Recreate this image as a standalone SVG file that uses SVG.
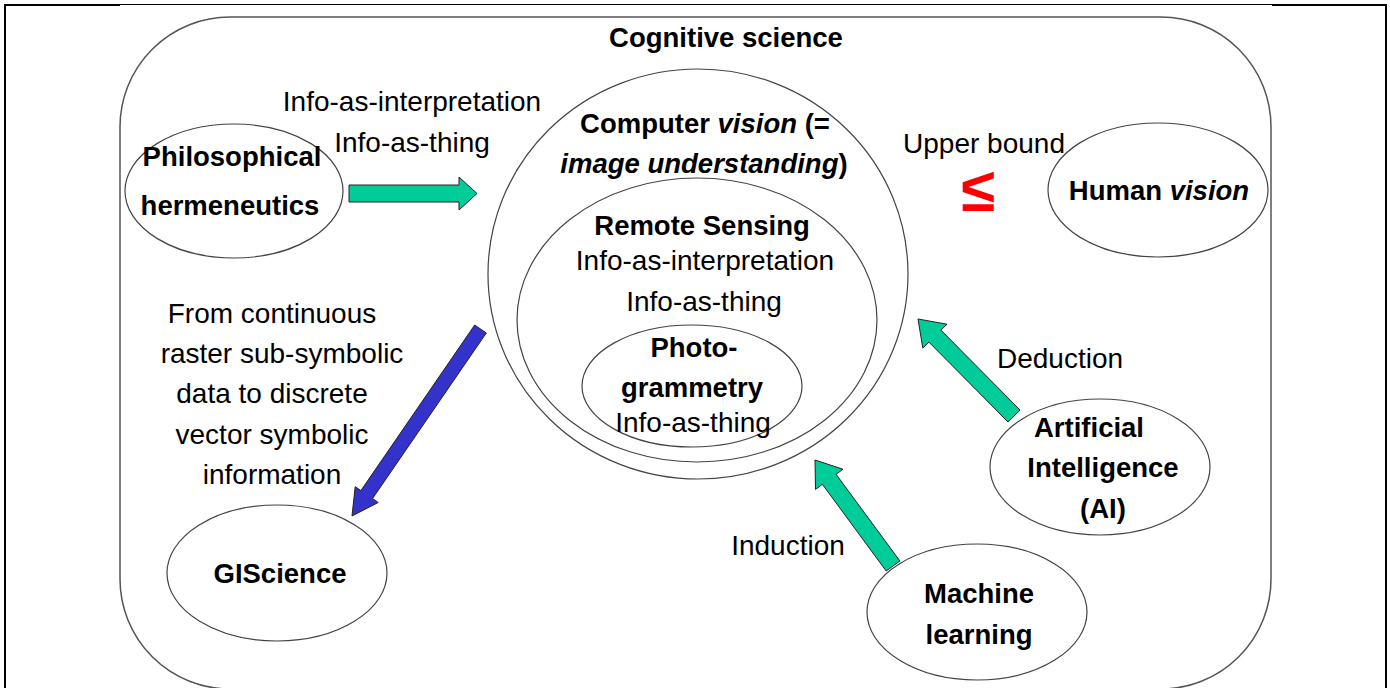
<svg xmlns="http://www.w3.org/2000/svg" width="1390" height="688" viewBox="0 0 1390 688">
<style>
.n{fill:#fff;stroke:#444;stroke-width:1.2}
.t{font-family:"Liberation Sans",Arial,sans-serif;font-size:28px;fill:#000;text-anchor:middle}
.b{font-family:"Liberation Sans",Arial,sans-serif;font-size:27.5px;font-weight:bold;fill:#000;text-anchor:middle}
.g{fill:#00CC99;stroke:#222;stroke-width:1}
.bl{fill:#3333CC;stroke:#222;stroke-width:1}
</style>
<rect width="1390" height="688" fill="#fff"/>
<g id="frame" fill="none" stroke="#000">
<line x1="5" y1="4" x2="5" y2="688" stroke-width="2"/>
<line x1="4" y1="5" x2="120" y2="5" stroke-width="2"/>
<line x1="120" y1="4.5" x2="1272" y2="4.5" stroke-width="1"/>
<line x1="1272" y1="5" x2="1387" y2="5" stroke-width="2"/>
<line x1="1386" y1="4" x2="1386" y2="688" stroke-width="2"/>
</g>
<g id="cognitive-science">
<rect x="120" y="17" width="1151" height="672" rx="110" ry="110" fill="none" stroke="#555" stroke-width="1.5"/>
<text class="b" x="726" y="47">Cognitive science</text>
</g>
<g id="computer-vision">
<ellipse class="n" cx="698" cy="274" rx="210" ry="205"/>
<text class="b" x="705" y="133">Computer <tspan font-style="italic">vision</tspan> (=</text>
<text class="b" x="704" y="173"><tspan font-style="italic">image understanding</tspan>)</text>
</g>
<g id="remote-sensing">
<ellipse class="n" cx="697" cy="320" rx="180" ry="142"/>
<text class="b" x="702" y="235">Remote Sensing</text>
<text class="t" x="705" y="270">Info-as-interpretation</text>
<text class="t" x="704" y="311">Info-as-thing</text>
</g>
<g id="photogrammetry">
<ellipse class="n" cx="692" cy="386" rx="110" ry="61"/>
<text class="b" x="694" y="357">Photo-</text>
<text class="b" x="692" y="397">grammetry</text>
<text class="t" x="693" y="432">Info-as-thing</text>
</g>
<g id="philosophical-hermeneutics">
<ellipse class="n" cx="234" cy="191" rx="109" ry="67"/>
<text class="b" x="232" y="166">Philosophical</text>
<text class="b" x="230" y="215">hermeneutics</text>
</g>
<g id="giscience">
<ellipse class="n" cx="277" cy="573" rx="110" ry="68"/>
<text class="b" x="280" y="583">GIScience</text>
</g>
<g id="human-vision">
<ellipse class="n" cx="1158" cy="190" rx="110" ry="67"/>
<text class="b" x="1159" y="200">Human <tspan font-style="italic">vision</tspan></text>
</g>
<g id="artificial-intelligence">
<ellipse class="n" cx="1100" cy="467" rx="110" ry="68"/>
<text class="b" x="1089" y="437">Artificial</text>
<text class="b" x="1103" y="477">Intelligence</text>
<text class="b" x="1103" y="518">(AI)</text>
</g>
<g id="machine-learning">
<ellipse class="n" cx="977" cy="612" rx="110" ry="68"/>
<text class="b" x="979" y="603">Machine</text>
<text class="b" x="979" y="644">learning</text>
</g>
<g id="connectors">
<polygon class="g" points="349,185 459,185 459,177 477,193.5 459,210 459,202 349,202"/>
<polygon class="bl" points="486.3,333 372.5,498.6 378.2,502.5 352,516 355.2,486.7 360.9,490.6 474.7,325"/>
<polygon class="g" points="1020,410 940.9,330.1 947,324.2 918,319 922.8,348.1 928.9,342.1 1008,422"/>
<polygon class="g" points="899.9,561 836.1,474.3 842.9,469.2 815,460 815.5,489.4 822.4,484.3 886.2,571"/>
</g>
<g id="labels">
<text class="t" x="412" y="111">Info-as-interpretation</text>
<text class="t" x="412" y="152">Info-as-thing</text>
<text class="t" x="984" y="153">Upper bound</text>
<text x="978" y="211" font-family="Liberation Sans,Arial,sans-serif" font-size="62" font-weight="bold" fill="#FF0000" text-anchor="middle">≤</text>
<text class="t" x="272" y="323">From continuous</text>
<text class="t" x="282" y="363">raster sub-symbolic</text>
<text class="t" x="272" y="403">data to discrete</text>
<text class="t" x="272" y="444">vector symbolic</text>
<text class="t" x="272" y="484">information</text>
<text class="t" x="1060" y="368">Deduction</text>
<text class="t" x="788" y="555">Induction</text>
</g>
</svg>
